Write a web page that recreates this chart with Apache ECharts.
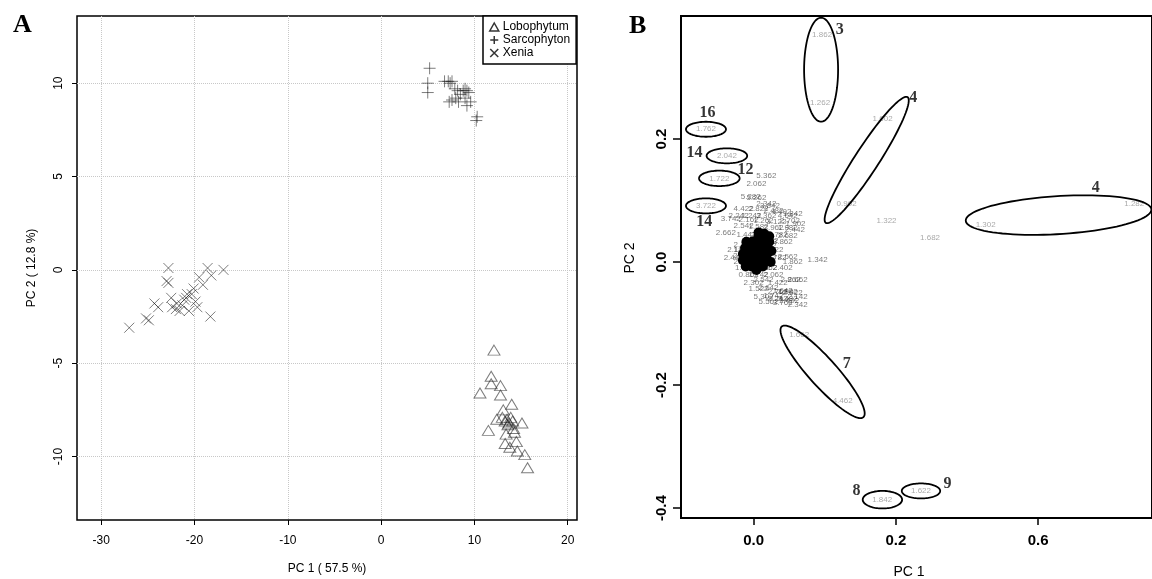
<!DOCTYPE html>
<html><head><meta charset="utf-8">
<script src="https://cdn.jsdelivr.net/npm/echarts@6/dist/echarts.min.js"></script>
<style>html,body{margin:0;padding:0;background:#fff}#c{width:1152px;height:579px}</style>
</head><body><div id="c"></div>
<script>
// ---------- Panel A data ----------
const lobophytum = [[12.1,-4.3],[11.8,-5.7],[11.8,-6.1],[12.8,-6.2],[10.6,-6.6],[12.8,-6.7],[14.0,-7.2],[13.1,-7.5],[12.4,-8.0],[11.5,-8.6],[13.5,-8.0],[13.3,-8.1],[13.7,-8.2],[13.9,-7.9],[14.1,-8.1],[13.6,-8.3],[15.1,-8.2],[13.4,-8.8],[14.3,-8.7],[13.3,-9.3],[14.5,-9.2],[13.8,-9.5],[14.6,-9.7],[15.4,-9.9],[15.7,-10.6],[14.2,-8.5],[13.0,-7.9]];
const sarcophyton = [[5.2,10.8],[5.0,10.0],[5.0,9.5],[6.8,10.1],[7.2,10.1],[7.6,10.1],[7.4,10.0],[7.9,9.7],[8.2,9.6],[8.8,9.6],[9.2,9.6],[9.4,9.5],[9.0,9.7],[7.6,9.1],[7.3,9.0],[8.0,9.2],[9.0,9.2],[9.6,9.0],[9.2,8.8],[8.5,9.4],[10.3,8.2],[10.2,8.0],[8.3,9.0]];
const xenia = [[-27.0,-3.1],[-25.2,-2.6],[-24.9,-2.7],[-24.3,-1.8],[-23.9,-2.0],[-22.8,0.1],[-23.0,-0.6],[-22.8,-0.7],[-22.5,-1.5],[-22.4,-2.0],[-21.9,-1.8],[-21.6,-2.2],[-21.3,-1.9],[-20.9,-1.5],[-20.8,-1.3],[-20.6,-2.2],[-20.3,-1.3],[-20.1,-1.0],[-19.9,-1.7],[-19.7,-2.0],[-19.5,-0.4],[-19.1,-0.8],[-18.6,0.1],[-18.2,-0.3],[-16.9,0.0],[-18.3,-2.5],[-21.1,-1.6],[-22.0,-2.1]];
const seriesNamesA = ['Lobophytum','Sarcophyton','Xenia'];
const xTicksA = [-30,-20,-10,0,10,20];
const yTicksA = [-10,-5,0,5,10];

// ---------- Panel B data ----------
const xTickValuesB = [0, 0.2, 0.4];
const xTickLabelsB = ['0.0','0.2','0.6'];
const yTicksB = [-0.4,-0.2,0.0,0.2];
const pointsB = [
 [0.0963,0.3691,'1.862'],[0.0935,0.2590,'1.262'],[0.1814,0.2337,'1.602'],[0.1308,0.0943,'0.902'],
 [0.3262,0.0602,'1.302'],[0.5350,0.0954,'1.282'],[0.1869,0.0672,'1.322'],[0.2480,0.0402,'1.682'],
 [0.0641,-0.1187,'1.662'],[0.1252,-0.2260,'4.462'],[0.1808,-0.3862,'1.842'],[0.2353,-0.3720,'1.622'],
 [-0.0669,0.2159,'1.762'],[-0.0375,0.1727,'2.042'],[-0.0481,0.1361,'1.722'],[-0.0669,0.0914,'3.722']
];
const clusterB = [
 [0.018,0.140,'5.362'],[0.004,0.128,'2.062'],
 [-0.004,0.106,'5.282'],[0.004,0.104,'5.262'],[0.018,0.094,'2.342'],[0.023,0.091,'3.842'],[-0.014,0.086,'4.422'],[0.007,0.086,'2.822'],
 [0.028,0.083,'2.482'],[0.039,0.081,'4.402'],[-0.021,0.075,'2.242'],[-0.003,0.076,'1.242'],[0.018,0.076,'3.362'],[0.048,0.075,'4.642'],
 [0.055,0.078,'1.842'],[-0.032,0.070,'3.742'],[-0.007,0.068,'2.162'],[0.014,0.067,'1.262'],[0.032,0.065,'3.122'],[0.051,0.067,'2.702'],
 [0.059,0.062,'1.902'],[-0.014,0.059,'2.542'],[0.007,0.057,'1.582'],[0.028,0.055,'2.962'],[0.048,0.055,'1.982'],[0.058,0.052,'2.442'],
 [-0.039,0.047,'2.662'],[-0.010,0.045,'1.442'],[0.010,0.044,'2.222'],[0.034,0.044,'1.782'],[0.048,0.042,'2.682'],[0.000,0.036,'3.302'],
 [0.021,0.034,'1.962'],[0.041,0.033,'3.862'],
 [-0.014,0.028,'2.102'],[-0.004,0.028,'1.922'],[0.007,0.028,'2.382'],[0.018,0.026,'2.722'],
 [-0.014,0.020,'1.682'],[-0.004,0.020,'2.142'],[0.007,0.018,'2.002'],[0.017,0.020,'1.862'],
 [-0.015,0.010,'2.262'],[-0.004,0.010,'2.482'],[0.007,0.010,'1.802'],[0.018,0.008,'2.582'],
 [-0.014,0.000,'2.022'],[-0.004,0.000,'2.302'],[0.007,0.000,'1.642'],[0.017,-0.002,'2.122'],
 [-0.012,-0.010,'1.902'],[-0.001,-0.010,'2.202'],[0.010,-0.010,'2.662'],[0.019,-0.010,'1.962'],
 [-0.023,0.020,'2.182'],[-0.028,0.007,'2.442'],[0.028,0.020,'2.922'],[0.032,0.007,'2.782'],[0.048,0.008,'2.562'],
 [0.055,0.000,'1.862'],[0.041,-0.010,'2.402'],[0.028,-0.021,'2.062'],[0.007,-0.021,'1.742'],[-0.007,-0.020,'0.862'],
 [0.014,-0.029,'2.542'],[0.000,-0.033,'2.302'],[0.034,-0.033,'1.422'],[0.052,-0.029,'2.862'],[0.062,-0.028,'2.662'],
 [0.021,-0.041,'2.642'],[0.007,-0.044,'1.522'],[0.041,-0.046,'1.642'],[0.055,-0.050,'2.922'],[0.028,-0.055,'1.742'],
 [0.014,-0.057,'5.302'],[0.048,-0.059,'3.482'],[0.062,-0.057,'2.142'],[0.021,-0.065,'5.562'],[0.041,-0.067,'3.762'],
 [0.062,-0.070,'2.342'],[0.090,0.003,'1.342'],[0.034,-0.049,'2.762'],[0.048,-0.049,'1.982'],[0.034,-0.060,'2.242'],[0.050,-0.063,'2.402']
];
// dense, fully overlapped part of the cluster
const clusterCoreB = [
 [0.007,0.048],[0.015,0.046],
 [0.007,0.042],[0.015,0.042],[0.022,0.042],
 [-0.010,0.033],[-0.002,0.033],[0.007,0.033],[0.015,0.033],[0.022,0.033],
 [-0.012,0.023],[-0.004,0.023],[0.004,0.023],[0.012,0.023],[0.020,0.023],[0.025,0.018],
 [-0.015,0.013],[-0.005,0.013],[0.003,0.013],[0.011,0.013],[0.019,0.013],
 [-0.015,0.003],[-0.005,0.003],[0.003,0.003],[0.011,0.003],[0.019,0.003],[0.024,0.000],
 [-0.011,-0.007],[-0.003,-0.007],[0.005,-0.007],[0.013,-0.007],[0.004,-0.013]
];
const ellipseCentersB = [[0.0949,0.3127],[0.1590,0.1659],[0.4287,0.0764],[0.0970,-0.1784],[0.1811,-0.3862],[0.2353,-0.3720],[-0.0669,0.2159],[-0.0375,0.1727],[-0.0481,0.1361],[-0.0669,0.0914]];
// layout of each ellipse: semi-axis a (px), semi-axis b (px), rotation (deg)
const ellipseShapeB = [[17,52,0],[75,12,57],[93,19,3.5],[61,14,-48],[19.7,8.8,0],[19.2,7.5,0],[20,7.5,0],[20.3,7.5,0],[20.3,7.7,0],[20,7.5,0]];
const annotB = [[0.1210,0.3772,'3'],[0.2246,0.2667,'4'],[0.4811,0.1210,'4'],[-0.0647,0.2428,'16'],[-0.0830,0.1777,'14'],[-0.0114,0.1496,'12'],[-0.0692,0.0655,'14'],[0.1308,-0.1659,'7'],[0.1446,-0.3724,'8'],[0.2724,-0.3610,'9']];

const SANS = 'Liberation Sans, Arial, sans-serif';
const SERIF = 'Liberation Serif, Times New Roman, serif';
const plusPath = 'path://M0,6L12,6M6,0L6,12';
const crossPath = 'path://M0,0L10,10M10,0L0,10';
const markerColor = 'rgba(30,30,30,0.72)';

const labelGray = {show:true, position:'inside', formatter: p => p.value[2], fontSize:8, fontFamily:SANS,
  color:'rgba(0,0,0,0.45)', textBorderWidth:0, textBorderColor:'transparent', textShadowBlur:0};
const labelCluster = Object.assign({}, labelGray, {color:'rgba(0,0,0,0.68)'});

const chart = echarts.init(document.getElementById('c'), null, {renderer:'canvas'});
chart.setOption({
  animation:false,
  backgroundColor:'#fff',
  grid:[
    {left:77, top:16, width:500, height:504, show:true, borderColor:'#000', borderWidth:1.5, backgroundColor:'transparent'},
    {left:681, top:16, width:480, height:502, show:true, borderColor:'#000', borderWidth:2, backgroundColor:'transparent'}
  ],
  xAxis:[
    {type:'value', gridIndex:0, min:-32.6, max:21,
     axisLine:{show:false, onZero:false}, axisTick:{show:true, length:5, customValues:xTicksA, lineStyle:{color:'#000', width:1}},
     axisLabel:{customValues:xTicksA, fontSize:12, fontFamily:SANS, color:'#000', margin:15},
     splitLine:{show:true, lineStyle:{type:'dotted', color:'#c8c8c8', width:1}}},
    {type:'value', gridIndex:1, min:-0.102, max:0.56,
     axisLine:{show:false, onZero:false}, axisTick:{show:true, length:7, customValues:xTickValuesB, lineStyle:{color:'#000', width:1.5}},
     axisLabel:{customValues:xTickValuesB, fontSize:15, fontWeight:'bold', fontFamily:SANS, color:'#000', margin:15,
       formatter: v => { const i = xTickValuesB.findIndex(t => Math.abs(t - v) < 1e-9); return i >= 0 ? xTickLabelsB[i] : ''; }},
     splitLine:{show:false}}
  ],
  yAxis:[
    {type:'value', gridIndex:0, min:-13.4, max:13.6,
     axisLine:{show:false, onZero:false}, axisTick:{show:true, length:5, customValues:yTicksA, lineStyle:{color:'#000', width:1}},
     axisLabel:{customValues:yTicksA, rotate:90, fontSize:12, fontFamily:SANS, color:'#000', margin:12},
     splitLine:{show:true, lineStyle:{type:'dotted', color:'#c8c8c8', width:1}}},
    {type:'value', gridIndex:1, min:-0.416, max:0.4,
     axisLine:{show:false, onZero:false}, axisTick:{show:true, length:8, customValues:yTicksB, lineStyle:{color:'#000', width:1.5}},
     axisLabel:{customValues:yTicksB, rotate:90, fontSize:15, fontWeight:'bold', fontFamily:SANS, color:'#000', margin:12,
       formatter: v => v.toFixed(1)},
     splitLine:{show:false}}
  ],
  legend:{
    left:483, top:16, orient:'vertical', backgroundColor:'#fff', borderColor:'#000', borderWidth:1.5,
    padding:[5,6,5,6], itemGap:1, itemWidth:9, itemHeight:8,
    textStyle:{fontSize:12, fontFamily:SANS, color:'#000', padding:[0,0,0,-1]},
    itemStyle:{color:'transparent', borderColor:'#000', borderWidth:1.5},
    data:[{name:seriesNamesA[0], icon:'triangle'},{name:seriesNamesA[1], icon:plusPath},{name:seriesNamesA[2], icon:crossPath}]
  },
  graphic:[
    {type:'text', left:13, top:12, style:{text:'A', font:'bold 26px '+SERIF, fill:'#000'}},
    {type:'text', left:629, top:13, style:{text:'B', font:'bold 26px '+SERIF, fill:'#000'}},
    {type:'text', x:327, y:569, style:{text:'PC 1 ( 57.5 %)', font:'12px '+SANS, fill:'#000', align:'center', verticalAlign:'middle'}},
    {type:'text', x:32, y:268, rotation:Math.PI/2, style:{text:'PC 2 ( 12.8 %)', font:'12px '+SANS, fill:'#000', align:'center', verticalAlign:'middle'}},
    {type:'text', x:909, y:572, style:{text:'PC 1', font:'14px '+SANS, fill:'#000', align:'center', verticalAlign:'middle'}},
    {type:'text', x:630, y:258, rotation:Math.PI/2, style:{text:'PC 2', font:'14px '+SANS, fill:'#000', align:'center', verticalAlign:'middle'}}
  ],
  series:[
    {name:seriesNamesA[0], type:'scatter', xAxisIndex:0, yAxisIndex:0, data:lobophytum, symbol:'triangle', symbolSize:[12,10],
     itemStyle:{color:'transparent', borderColor:markerColor, borderWidth:1}},
    {name:seriesNamesA[1], type:'scatter', xAxisIndex:0, yAxisIndex:0, data:sarcophyton, symbol:plusPath, symbolSize:12,
     itemStyle:{color:'transparent', borderColor:markerColor, borderWidth:1}},
    {name:seriesNamesA[2], type:'scatter', xAxisIndex:0, yAxisIndex:0, data:xenia, symbol:crossPath, symbolSize:10,
     itemStyle:{color:'transparent', borderColor:markerColor, borderWidth:1}},
    {name:'core', type:'scatter', xAxisIndex:1, yAxisIndex:1, data:clusterCoreB, symbol:'circle', symbolSize:10,
     itemStyle:{color:'#000', borderWidth:0, borderColor:'#000', opacity:1}, silent:true, z:1},
    {name:'cluster', type:'scatter', xAxisIndex:1, yAxisIndex:1, data:clusterB, symbolSize:1,
     itemStyle:{color:'transparent'}, label:labelCluster, silent:true, z:2},
    {name:'points', type:'scatter', xAxisIndex:1, yAxisIndex:1, data:pointsB, symbolSize:1,
     itemStyle:{color:'transparent'}, label:labelGray, silent:true},
    {name:'ellipses', type:'custom', xAxisIndex:1, yAxisIndex:1, data:ellipseCentersB, clip:false, silent:true,
     encode:{x:0, y:1},
     renderItem:function(params, api){
       const c = api.coord([api.value(0), api.value(1)]);
       const s = ellipseShapeB[params.dataIndex];
       const a = s[0], b = s[1], th = s[2]*Math.PI/180;
       const pts = [];
       for (let i = 0; i <= 90; i++) {
         const t = i/90*2*Math.PI, ex = a*Math.cos(t), ey = b*Math.sin(t);
         pts.push([c[0] + ex*Math.cos(th) - ey*Math.sin(th), c[1] - (ex*Math.sin(th) + ey*Math.cos(th))]);
       }
       return {type:'polygon', shape:{points:pts}, style:{fill:'none', stroke:'#000', lineWidth:1.8}};
     }},
    {name:'annot', type:'scatter', xAxisIndex:1, yAxisIndex:1, data:annotB, symbolSize:1,
     itemStyle:{color:'transparent'}, silent:true,
     label:{show:true, position:'inside', formatter:p => p.value[2], fontSize:16, fontWeight:'bold', fontFamily:SERIF, color:'#000', textBorderWidth:0}}
  ]
});
</script></body></html>
